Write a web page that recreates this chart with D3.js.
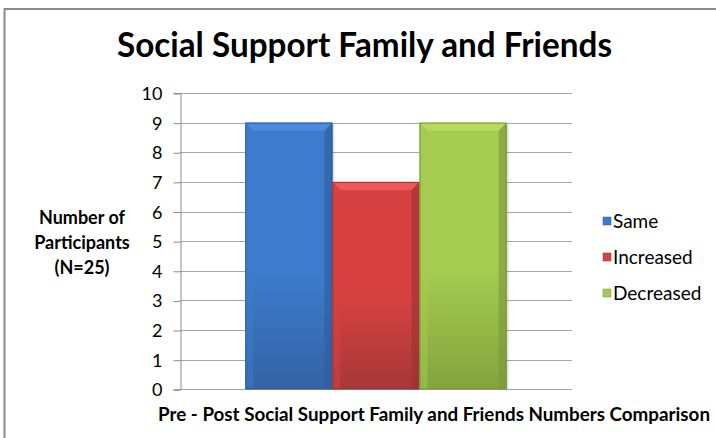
<!DOCTYPE html>
<html>
<head>
<meta charset="utf-8">
<script src="https://cdn.jsdelivr.net/npm/d3@7"></script>
<style>
  body { margin: 0; background: #fff; }
  text { font-family: Lato, "Open Sans", sans-serif; fill: #000; }
</style>
</head>
<body>
<svg id="chart" width="716" height="438"></svg>
<script>
// data
const series = ["Same", "Increased", "Decreased"];
const values = [9, 7, 9];
const yTicks = [0, 1, 2, 3, 4, 5, 6, 7, 8, 9, 10];
const chartTitle = "Social Support Family and Friends";
const xTitle = "Pre - Post Social Support Family and Friends Numbers Comparison";
const yTitle = ["Number of", "Participants", "(N=25)"];

const colors = {
  Same:      { top: "#4a8be0", mid: "#3d7ccc", bot: "#3363a5", edge: "#2f5d9c" },
  Increased: { top: "#ee5a5a", mid: "#d74141", bot: "#a63838", edge: "#9b3232" },
  Decreased: { top: "#b5da60", mid: "#a5cb50", bot: "#83a33e", edge: "#7a9838" }
};

const svg = d3.select("#chart");
const plot = { left: 180, right: 572, top: 93, bottom: 389.3 };

// frame round the chart (cut off at the right and bottom)
svg.append("rect")
  .attr("x", 4.5).attr("y", 9)
  .attr("width", 900).attr("height", 600)
  .attr("fill", "none")
  .attr("stroke", "#8c8c8c")
  .attr("stroke-width", 2);

const y = d3.scaleLinear().domain([0, 10]).range([plot.bottom, plot.top]);
const x0 = d3.scaleBand().domain(["group"]).range([plot.left, plot.right]).padding(0.2);
const x1 = d3.scaleBand().domain(series).range([0, x0.bandwidth()]).padding(0);

// gridlines
svg.append("g")
  .selectAll("line")
  .data(yTicks)
  .join("line")
  .attr("x1", plot.left).attr("x2", plot.right)
  .attr("y1", d => Math.round(y(d)) + 0.5)
  .attr("y2", d => Math.round(y(d)) + 0.5)
  .attr("stroke", "#a6a6a6")
  .attr("stroke-width", 1);

// y axis
const yAxis = svg.append("g")
  .attr("transform", `translate(${plot.left + 0.5},0)`)
  .call(d3.axisLeft(y).tickValues(yTicks).tickSize(7).tickPadding(11));
yAxis.select(".domain").attr("stroke", "#8c8c8c");
yAxis.selectAll(".tick line").attr("stroke", "#8c8c8c")
  .attr("transform", "translate(0,0.5)");
yAxis.selectAll(".tick text")
  .style("font-size", "18px")
  .style("font-family", "Lato, sans-serif")
  .attr("fill", "#000")
  .attr("dy", "0.36em");

// gradients
const defs = svg.append("defs");
series.forEach((s, i) => {
  const g = defs.append("linearGradient")
    .attr("id", "grad" + i)
    .attr("x1", 0).attr("y1", 0).attr("x2", 0).attr("y2", 1);
  g.append("stop").attr("offset", "0%").attr("stop-color", colors[s].mid);
  g.append("stop").attr("offset", "55%").attr("stop-color", colors[s].mid);
  g.append("stop").attr("offset", "100%").attr("stop-color", colors[s].bot);
});

// bars with a bevelled look
const bars = svg.append("g")
  .attr("transform", `translate(${x0("group")},0)`)
  .selectAll("g")
  .data(series.map((s, i) => ({ name: s, value: values[i], i })))
  .join("g");

bars.append("rect")
  .attr("x", d => x1(d.name) + 2)
  .attr("y", d => y(d.value) + 2)
  .attr("width", x1.bandwidth())
  .attr("height", d => y(0) - y(d.value) - 2)
  .attr("fill", "#000")
  .attr("opacity", 0.12);

bars.append("rect")
  .attr("x", d => x1(d.name))
  .attr("y", d => y(d.value))
  .attr("width", x1.bandwidth())
  .attr("height", d => y(0) - y(d.value))
  .attr("fill", d => `url(#grad${d.i})`);

const bev = 8;
// top bevel
bars.append("path")
  .attr("d", d => {
    const l = x1(d.name), r = l + x1.bandwidth(), t = y(d.value);
    return `M${l},${t}L${r},${t}L${r - bev},${t + bev}L${l + bev},${t + bev}Z`;
  })
  .attr("fill", d => colors[d.name].top);
// side bevels
bars.append("path")
  .attr("d", d => {
    const l = x1(d.name), t = y(d.value), b = y(0);
    return `M${l},${t}L${l + bev},${t + bev}L${l + bev},${b}L${l},${b}Z`;
  })
  .attr("fill", d => colors[d.name].mid)
  .attr("opacity", 0.5);
bars.append("path")
  .attr("d", d => {
    const r = x1(d.name) + x1.bandwidth(), t = y(d.value), b = y(0);
    return `M${r},${t}L${r - bev},${t + bev}L${r - bev},${b}L${r},${b}Z`;
  })
  .attr("fill", d => colors[d.name].edge)
  .attr("opacity", 0.6);
bars.append("rect")
  .attr("x", d => x1(d.name) + 0.5)
  .attr("y", d => y(d.value) + 0.5)
  .attr("width", x1.bandwidth() - 1)
  .attr("height", d => y(0) - y(d.value) - 1)
  .attr("fill", "none")
  .attr("stroke", d => colors[d.name].edge)
  .attr("stroke-width", 1);

// titles
svg.append("text")
  .attr("x", 364.5).attr("y", 57)
  .attr("text-anchor", "middle")
  .attr("textLength", 495)
  .attr("lengthAdjust", "spacingAndGlyphs")
  .style("font-size", "34px")
  .style("font-weight", "bold")
  .text(chartTitle);

svg.append("text")
  .attr("x", 434).attr("y", 421)
  .attr("text-anchor", "middle")
  .attr("textLength", 552)
  .attr("lengthAdjust", "spacingAndGlyphs")
  .style("font-size", "18px")
  .style("font-weight", "bold")
  .text(xTitle);

svg.append("g")
  .selectAll("text")
  .data(yTitle)
  .join("text")
  .attr("x", 82)
  .attr("y", (d, i) => 224 + i * 25)
  .attr("text-anchor", "middle")
  .style("font-size", "18px")
  .style("font-weight", "bold")
  .text(d => d);

// legend
const legend = svg.append("g")
  .selectAll("g")
  .data(series)
  .join("g")
  .attr("transform", (d, i) => `translate(603,${221 + i * 36})`);
legend.append("rect")
  .attr("x", 0).attr("y", -4)
  .attr("width", 8).attr("height", 8)
  .attr("fill", d => colors[d].mid)
  .attr("stroke", d => colors[d].edge)
  .attr("stroke-width", 0.5);
legend.append("text")
  .attr("x", 10).attr("y", 0)
  .attr("dy", "0.35em")
  .style("font-size", "19px")
  .text(d => d);
</script>
</body>
</html>
